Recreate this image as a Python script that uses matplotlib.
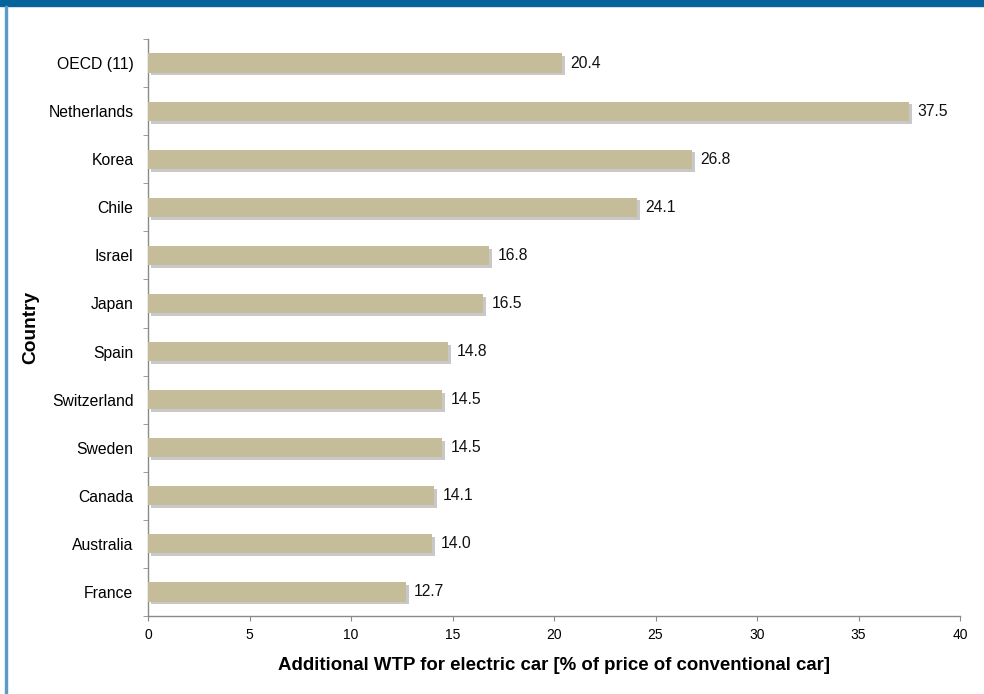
import matplotlib
matplotlib.use('Agg')
import matplotlib.pyplot as plt
import matplotlib.patheffects as pe
import numpy as np

plt.rcParams['font.family'] = ['Liberation Sans', 'DejaVu Sans']

countries = ['OECD (11)', 'Netherlands', 'Korea', 'Chile', 'Israel', 'Japan',
             'Spain', 'Switzerland', 'Sweden', 'Canada', 'Australia', 'France']
wtp = [20.4, 37.5, 26.8, 24.1, 16.8, 16.5, 14.8, 14.5, 14.5, 14.1, 14.0, 12.7]
x_ticks = [0, 5, 10, 15, 20, 25, 30, 35, 40]

bar_color = '#c5bc99'
spine_color = '#8a8a8a'

fig = plt.figure(figsize=(9.84, 6.94), dpi=100)
ax = fig.add_axes([148/984, 1 - 616/694, (960 - 148)/984, (616 - 39)/694])

ypos = np.arange(len(countries))
bars = ax.barh(ypos, wtp, height=0.4, color=bar_color, zorder=3)
for b in bars:
    b.set_path_effects([pe.SimplePatchShadow(offset=(2, -2), shadow_rgbFace='#777777', alpha=0.4),
                        pe.Normal()])

for y, v in zip(ypos, wtp):
    ax.annotate(f'{v:.1f}', (v, y), xytext=(6, 0), textcoords='offset points',
                va='center', ha='left', fontsize=11.3, color='#111111')

ax.set_ylim(len(countries) - 0.5, -0.5)
ax.set_xlim(0, 40)
ax.set_xticks(x_ticks)
ax.set_yticks(ypos)
ax.set_yticklabels(countries)
ax.set_yticks(np.arange(len(countries) + 1) - 0.5, minor=True)
ax.tick_params(axis='y', which='major', length=0, pad=10.5, labelsize=11.3)
ax.tick_params(axis='y', which='minor', length=3.6, color=spine_color, direction='out')
ax.tick_params(axis='x', length=3.6, color=spine_color, labelsize=10, pad=5)

for s in ['top', 'right']:
    ax.spines[s].set_visible(False)
for s in ['left', 'bottom']:
    ax.spines[s].set_color(spine_color)
    ax.spines[s].set_linewidth(1.0)

ax.set_xlabel('Additional WTP for electric car [% of price of conventional car]',
              fontsize=13.4, fontweight='bold')
ax.xaxis.label.set_va('center')
ax.xaxis.set_label_coords(0.5, -0.085)
ax.set_ylabel('Country', fontsize=13.8, fontweight='bold')
ax.yaxis.label.set_va('center')
ax.yaxis.set_label_coords(-0.144, 0.5)

# frame: blue band along the top and a thin line down the left edge
fig.patches.append(plt.Rectangle((0, 1 - 6/694), 1, 6/694, transform=fig.transFigure,
                                 color='#05629a', zorder=10))
fig.patches.append(plt.Rectangle((5/984, 0), 2/984, 1 - 6/694, transform=fig.transFigure,
                                 color='#5b9bc8', zorder=10))

fig.savefig('out.png', dpi=100)
